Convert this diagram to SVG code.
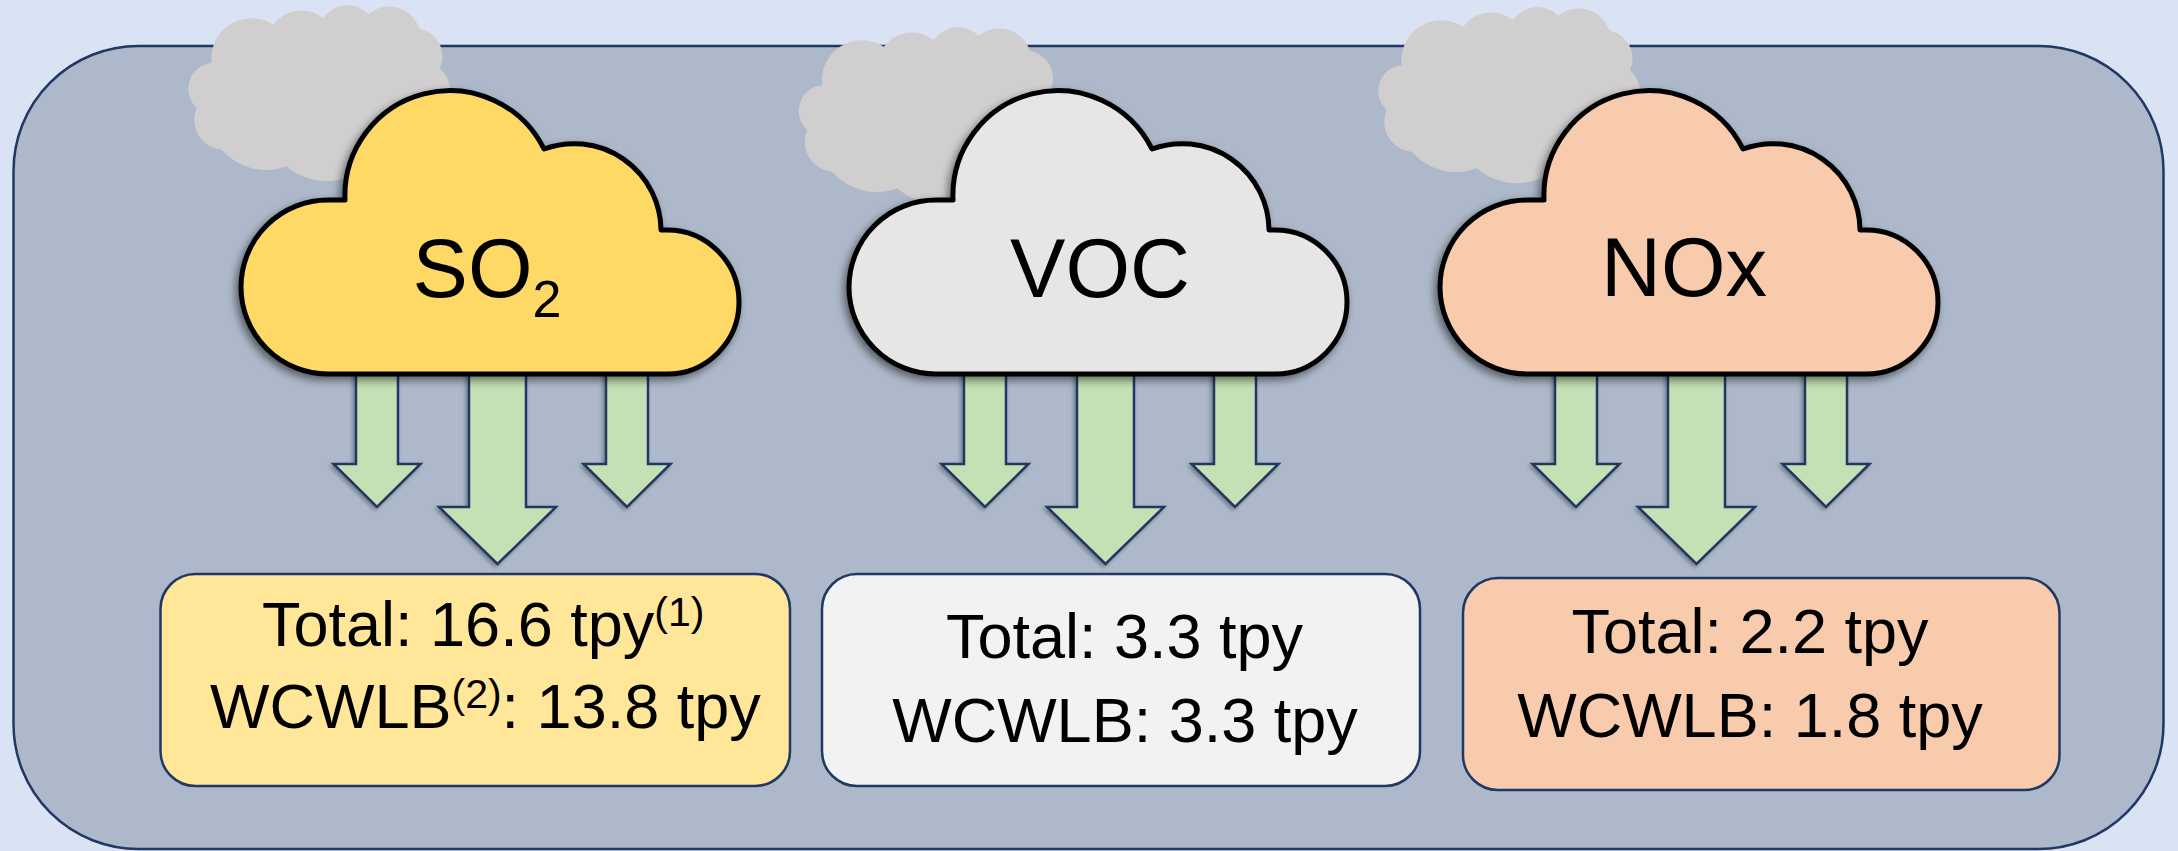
<svg xmlns="http://www.w3.org/2000/svg" width="2178" height="851" viewBox="0 0 2178 851">
<style>
 .bg{fill:#DAE3F3}
 .panel{fill:#ADB9CA;stroke:#1F3864;stroke-width:2.5}
 .puff{fill:#D0CECE}
 .cloud{stroke:#000;stroke-width:5;stroke-linejoin:round}
 .arrow{fill:#C5E0B4;stroke:#203864;stroke-width:2.5;stroke-linejoin:miter}
 .box{stroke:#203864;stroke-width:2.5}
 .lbl{font-family:"Liberation Sans",Arial,sans-serif;fill:#000}
 .big{font-size:83px}
 .val{font-size:63px}
</style>
<defs>
 <filter id="shadow" x="-10%" y="-10%" width="125%" height="125%">
  <feGaussianBlur in="SourceAlpha" stdDeviation="4"/>
  <feOffset dx="-3" dy="4"/>
  <feComponentTransfer><feFuncA type="linear" slope="0.5"/></feComponentTransfer>
  <feMerge><feMergeNode/><feMergeNode in="SourceGraphic"/></feMerge>
 </filter>
 <filter id="ashadow" x="-20%" y="-10%" width="140%" height="125%">
  <feGaussianBlur in="SourceAlpha" stdDeviation="2"/>
  <feOffset dx="-2" dy="2"/>
  <feComponentTransfer><feFuncA type="linear" slope="0.35"/></feComponentTransfer>
  <feMerge><feMergeNode/><feMergeNode in="SourceGraphic"/></feMerge>
 </filter>
 <path id="cloudShape" d="M 88 285 A 87 87 0 0 1 1 198 A 87 87 0 0 1 88 111 L 105 111 A 105 105 0 0 1 304 60 A 87 87 0 0 1 421 141 L 427 141 A 72 72 0 0 1 499 213 A 72 72 0 0 1 427 285 Z"/>
 <path id="puffShape" d="M 9.7 103 A 26 26 0 0 1 24.7 58 A 40 40 0 0 1 86.3 19.7 A 35 35 0 0 1 136.3 13 A 29 29 0 0 1 181.3 9 A 32 32 0 0 1 232.3 23.7 A 28 28 0 0 1 253 63 A 34 34 0 0 1 250 115 L 175 165 A 61 61 0 0 1 99.7 161.3 A 59 59 0 0 1 34.7 144.7 A 30 30 0 0 1 9.7 103 Z"/>
 <g id="arrowSet">
  <path d="M 356 370 L 398 370 L 398 464 L 420.5 464 L 377 507 L 333.5 464 L 356 464 Z"/>
  <path d="M 469 370 L 526 370 L 526 507 L 556 507 L 497.5 564 L 439 507 L 469 507 Z"/>
  <path d="M 606 370 L 648 370 L 648 464 L 670.5 464 L 627 507 L 583.5 464 L 606 464 Z"/>
 </g>
</defs>

<rect class="bg" x="0" y="0" width="2178" height="851"/>
<g id="panel">
 <rect class="panel" x="13.5" y="46" width="2150" height="803" rx="125" ry="125"/>
</g>

<g id="background-clouds">
 <use href="#puffShape" class="puff" transform="translate(187,5)"/>
 <use href="#puffShape" class="puff" transform="translate(797.5,27)"/>
 <use href="#puffShape" class="puff" transform="translate(1377,7)"/>
</g>

<g id="connectors">
 <use href="#arrowSet" class="arrow" filter="url(#ashadow)"/>
 <use href="#arrowSet" class="arrow" filter="url(#ashadow)" transform="translate(608,0)"/>
 <use href="#arrowSet" class="arrow" filter="url(#ashadow)" transform="translate(1199,0)"/>
</g>

<g id="cloud-so2">
 <use href="#cloudShape" class="cloud" fill="#FFD966" filter="url(#shadow)" transform="translate(240,89)"/>
 <text class="lbl big" x="487" y="297" text-anchor="middle">SO<tspan font-size="52" dy="20">2</tspan></text>
</g>
<g id="cloud-voc">
 <use href="#cloudShape" class="cloud" fill="#E7E6E6" filter="url(#shadow)" transform="translate(848,89)"/>
 <text class="lbl big" x="1100" y="297" text-anchor="middle">VOC</text>
</g>
<g id="cloud-nox">
 <use href="#cloudShape" class="cloud" fill="#F8CBAD" filter="url(#shadow)" transform="translate(1439,89)"/>
 <text class="lbl big" x="1684" y="296" text-anchor="middle">NOx</text>
</g>

<g id="box-so2">
 <rect class="box" x="160.5" y="574" width="629.5" height="212" rx="35" ry="35" fill="#FFE699"/>
 <text class="lbl val" x="262" y="646">Total: 16.6 tpy<tspan font-size="41" dy="-20">(1)</tspan></text>
 <text class="lbl val" x="210" y="728">WCWLB<tspan font-size="41" dy="-20">(2)</tspan><tspan dy="20">: 13.8 tpy</tspan></text>
</g>
<g id="box-voc">
 <rect class="box" x="822" y="574" width="598" height="212" rx="35" ry="35" fill="#F2F2F2"/>
 <text class="lbl val" x="1124.5" y="658" text-anchor="middle">Total: 3.3 tpy</text>
 <text class="lbl val" x="1125" y="741.5" text-anchor="middle">WCWLB: 3.3 tpy</text>
</g>
<g id="box-nox">
 <rect class="box" x="1463" y="578" width="596.5" height="212" rx="35" ry="35" fill="#F8CBAD"/>
 <text class="lbl val" x="1750" y="653" text-anchor="middle">Total: 2.2 tpy</text>
 <text class="lbl val" x="1750" y="737" text-anchor="middle">WCWLB: 1.8 tpy</text>
</g>
</svg>
